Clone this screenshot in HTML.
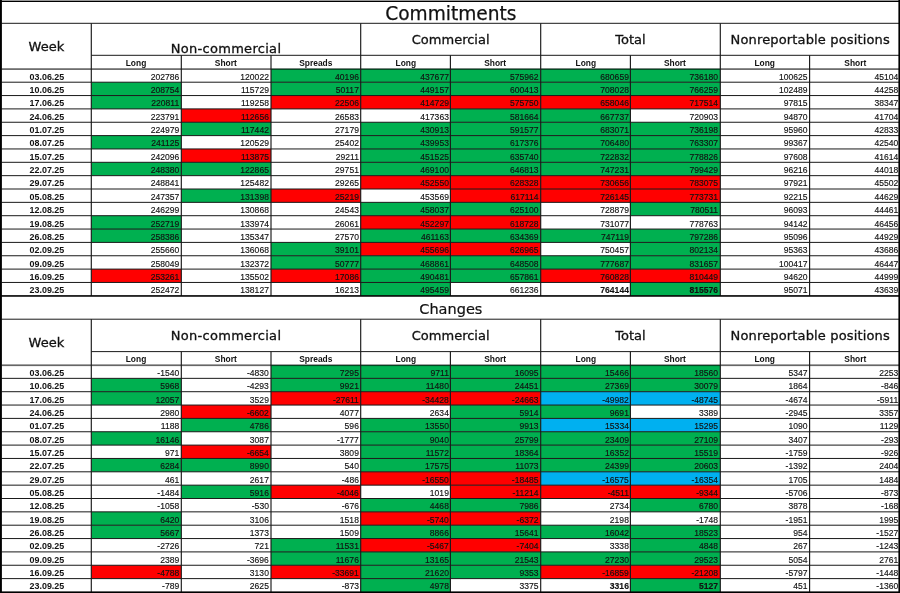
<!DOCTYPE html>
<html lang="en"><head><meta charset="utf-8"><title>Commitments / Changes</title>
<style>
html,body{margin:0;padding:0;background:#fff}
#pg{position:relative;width:900px;height:593px;overflow:hidden;background:#fff;font-family:"Liberation Sans",sans-serif;color:#111}
#pg svg{position:absolute;left:0;top:0}
#pg div{position:absolute;white-space:nowrap;overflow:visible;height:12px;line-height:12px}
.ttl{font-family:"DejaVu Sans",sans-serif;font-size:18.6px;text-align:center;-webkit-text-stroke:.25px #111}
.ttl2{font-family:"DejaVu Sans",sans-serif;font-size:14.5px;text-align:center;-webkit-text-stroke:.2px #111}
.hd{font-family:"DejaVu Sans",sans-serif;font-size:13px;text-align:center;-webkit-text-stroke:.3px #111}
.nc{letter-spacing:.3px}
.nr{letter-spacing:.15px}
.sub{font-weight:bold;font-size:9.2px;text-align:center;transform:scaleX(.915);transform-origin:50% 50%}
.wk{font-weight:bold;font-size:9.2px;text-align:center;transform:scaleX(.97);transform-origin:50% 50%}
.num{font-size:9.5px;text-align:right;-webkit-text-stroke:.15px #111;transform:scaleX(.90);transform-origin:100% 50%}
.b{font-weight:bold}
</style></head><body>
<div id="pg">
<svg width="900" height="593" viewBox="0 0 900 593">
<rect x="271.00" y="68.85" width="89.70" height="13.35" fill="#00B050"/>
<rect x="360.70" y="68.85" width="89.70" height="13.35" fill="#00B050"/>
<rect x="450.40" y="68.85" width="90.30" height="13.35" fill="#00B050"/>
<rect x="540.70" y="68.85" width="89.70" height="13.35" fill="#00B050"/>
<rect x="630.40" y="68.85" width="89.90" height="13.35" fill="#00B050"/>
<rect x="91.30" y="82.20" width="90.00" height="13.35" fill="#00B050"/>
<rect x="271.00" y="82.20" width="89.70" height="13.35" fill="#00B050"/>
<rect x="360.70" y="82.20" width="89.70" height="13.35" fill="#00B050"/>
<rect x="450.40" y="82.20" width="90.30" height="13.35" fill="#00B050"/>
<rect x="540.70" y="82.20" width="89.70" height="13.35" fill="#00B050"/>
<rect x="630.40" y="82.20" width="89.90" height="13.35" fill="#00B050"/>
<rect x="91.30" y="95.55" width="90.00" height="13.35" fill="#00B050"/>
<rect x="271.00" y="95.55" width="89.70" height="13.35" fill="#FF0000"/>
<rect x="360.70" y="95.55" width="89.70" height="13.35" fill="#FF0000"/>
<rect x="450.40" y="95.55" width="90.30" height="13.35" fill="#FF0000"/>
<rect x="540.70" y="95.55" width="89.70" height="13.35" fill="#FF0000"/>
<rect x="630.40" y="95.55" width="89.90" height="13.35" fill="#FF0000"/>
<rect x="181.30" y="108.90" width="89.70" height="13.35" fill="#FF0000"/>
<rect x="450.40" y="108.90" width="90.30" height="13.35" fill="#00B050"/>
<rect x="540.70" y="108.90" width="89.70" height="13.35" fill="#00B050"/>
<rect x="181.30" y="122.25" width="89.70" height="13.35" fill="#00B050"/>
<rect x="360.70" y="122.25" width="89.70" height="13.35" fill="#00B050"/>
<rect x="450.40" y="122.25" width="90.30" height="13.35" fill="#00B050"/>
<rect x="540.70" y="122.25" width="89.70" height="13.35" fill="#00B050"/>
<rect x="630.40" y="122.25" width="89.90" height="13.35" fill="#00B050"/>
<rect x="91.30" y="135.60" width="90.00" height="13.35" fill="#00B050"/>
<rect x="360.70" y="135.60" width="89.70" height="13.35" fill="#00B050"/>
<rect x="450.40" y="135.60" width="90.30" height="13.35" fill="#00B050"/>
<rect x="540.70" y="135.60" width="89.70" height="13.35" fill="#00B050"/>
<rect x="630.40" y="135.60" width="89.90" height="13.35" fill="#00B050"/>
<rect x="181.30" y="148.95" width="89.70" height="13.35" fill="#FF0000"/>
<rect x="360.70" y="148.95" width="89.70" height="13.35" fill="#00B050"/>
<rect x="450.40" y="148.95" width="90.30" height="13.35" fill="#00B050"/>
<rect x="540.70" y="148.95" width="89.70" height="13.35" fill="#00B050"/>
<rect x="630.40" y="148.95" width="89.90" height="13.35" fill="#00B050"/>
<rect x="91.30" y="162.30" width="90.00" height="13.35" fill="#00B050"/>
<rect x="181.30" y="162.30" width="89.70" height="13.35" fill="#00B050"/>
<rect x="360.70" y="162.30" width="89.70" height="13.35" fill="#00B050"/>
<rect x="450.40" y="162.30" width="90.30" height="13.35" fill="#00B050"/>
<rect x="540.70" y="162.30" width="89.70" height="13.35" fill="#00B050"/>
<rect x="630.40" y="162.30" width="89.90" height="13.35" fill="#00B050"/>
<rect x="360.70" y="175.65" width="89.70" height="13.35" fill="#FF0000"/>
<rect x="450.40" y="175.65" width="90.30" height="13.35" fill="#FF0000"/>
<rect x="540.70" y="175.65" width="89.70" height="13.35" fill="#FF0000"/>
<rect x="630.40" y="175.65" width="89.90" height="13.35" fill="#FF0000"/>
<rect x="181.30" y="189.00" width="89.70" height="13.35" fill="#00B050"/>
<rect x="271.00" y="189.00" width="89.70" height="13.35" fill="#FF0000"/>
<rect x="450.40" y="189.00" width="90.30" height="13.35" fill="#FF0000"/>
<rect x="540.70" y="189.00" width="89.70" height="13.35" fill="#FF0000"/>
<rect x="630.40" y="189.00" width="89.90" height="13.35" fill="#FF0000"/>
<rect x="360.70" y="202.35" width="89.70" height="13.35" fill="#00B050"/>
<rect x="450.40" y="202.35" width="90.30" height="13.35" fill="#00B050"/>
<rect x="630.40" y="202.35" width="89.90" height="13.35" fill="#00B050"/>
<rect x="91.30" y="215.70" width="90.00" height="13.35" fill="#00B050"/>
<rect x="360.70" y="215.70" width="89.70" height="13.35" fill="#FF0000"/>
<rect x="450.40" y="215.70" width="90.30" height="13.35" fill="#FF0000"/>
<rect x="91.30" y="229.05" width="90.00" height="13.35" fill="#00B050"/>
<rect x="360.70" y="229.05" width="89.70" height="13.35" fill="#00B050"/>
<rect x="450.40" y="229.05" width="90.30" height="13.35" fill="#00B050"/>
<rect x="540.70" y="229.05" width="89.70" height="13.35" fill="#00B050"/>
<rect x="630.40" y="229.05" width="89.90" height="13.35" fill="#00B050"/>
<rect x="271.00" y="242.40" width="89.70" height="13.35" fill="#00B050"/>
<rect x="360.70" y="242.40" width="89.70" height="13.35" fill="#FF0000"/>
<rect x="450.40" y="242.40" width="90.30" height="13.35" fill="#FF0000"/>
<rect x="630.40" y="242.40" width="89.90" height="13.35" fill="#00B050"/>
<rect x="271.00" y="255.75" width="89.70" height="13.35" fill="#00B050"/>
<rect x="360.70" y="255.75" width="89.70" height="13.35" fill="#00B050"/>
<rect x="450.40" y="255.75" width="90.30" height="13.35" fill="#00B050"/>
<rect x="540.70" y="255.75" width="89.70" height="13.35" fill="#00B050"/>
<rect x="630.40" y="255.75" width="89.90" height="13.35" fill="#00B050"/>
<rect x="91.30" y="269.10" width="90.00" height="13.35" fill="#FF0000"/>
<rect x="271.00" y="269.10" width="89.70" height="13.35" fill="#FF0000"/>
<rect x="360.70" y="269.10" width="89.70" height="13.35" fill="#00B050"/>
<rect x="450.40" y="269.10" width="90.30" height="13.35" fill="#00B050"/>
<rect x="540.70" y="269.10" width="89.70" height="13.35" fill="#FF0000"/>
<rect x="630.40" y="269.10" width="89.90" height="13.35" fill="#FF0000"/>
<rect x="360.70" y="282.45" width="89.70" height="13.35" fill="#00B050"/>
<rect x="630.40" y="282.45" width="89.90" height="13.35" fill="#00B050"/>
<rect x="1.50" y="22.80" width="898.70" height="1.00" fill="#1a1a1a"/>
<rect x="91.30" y="54.80" width="808.90" height="1.00" fill="#1a1a1a"/>
<rect x="1.50" y="68.25" width="898.70" height="1.70" fill="rgba(0,0,0,.6)"/>
<rect x="1.50" y="81.70" width="898.70" height="1.00" fill="#1a1a1a"/>
<rect x="1.50" y="95.05" width="898.70" height="1.00" fill="#1a1a1a"/>
<rect x="1.50" y="108.40" width="898.70" height="1.00" fill="#1a1a1a"/>
<rect x="1.50" y="121.75" width="898.70" height="1.00" fill="#1a1a1a"/>
<rect x="1.50" y="135.10" width="898.70" height="1.00" fill="#1a1a1a"/>
<rect x="1.50" y="148.45" width="898.70" height="1.00" fill="#1a1a1a"/>
<rect x="1.50" y="161.80" width="898.70" height="1.00" fill="#1a1a1a"/>
<rect x="1.50" y="175.15" width="898.70" height="1.00" fill="#1a1a1a"/>
<rect x="1.50" y="188.50" width="898.70" height="1.00" fill="#1a1a1a"/>
<rect x="1.50" y="201.85" width="898.70" height="1.00" fill="#1a1a1a"/>
<rect x="1.50" y="215.20" width="898.70" height="1.00" fill="#1a1a1a"/>
<rect x="1.50" y="228.55" width="898.70" height="1.00" fill="#1a1a1a"/>
<rect x="1.50" y="241.90" width="898.70" height="1.00" fill="#1a1a1a"/>
<rect x="1.50" y="255.25" width="898.70" height="1.00" fill="#1a1a1a"/>
<rect x="1.50" y="268.60" width="898.70" height="1.00" fill="#1a1a1a"/>
<rect x="1.50" y="281.95" width="898.70" height="1.00" fill="#1a1a1a"/>
<rect x="90.72" y="23.30" width="1.15" height="272.50" fill="#1a1a1a"/>
<rect x="360.12" y="23.30" width="1.15" height="272.50" fill="#1a1a1a"/>
<rect x="540.12" y="23.30" width="1.15" height="272.50" fill="#1a1a1a"/>
<rect x="719.72" y="23.30" width="1.15" height="272.50" fill="#1a1a1a"/>
<rect x="180.73" y="55.30" width="1.15" height="240.50" fill="#1a1a1a"/>
<rect x="270.43" y="55.30" width="1.15" height="240.50" fill="#1a1a1a"/>
<rect x="449.82" y="55.30" width="1.15" height="240.50" fill="#1a1a1a"/>
<rect x="629.82" y="55.30" width="1.15" height="240.50" fill="#1a1a1a"/>
<rect x="809.02" y="55.30" width="1.15" height="240.50" fill="#1a1a1a"/>
<rect x="271.00" y="365.00" width="89.70" height="13.35" fill="#00B050"/>
<rect x="360.70" y="365.00" width="89.70" height="13.35" fill="#00B050"/>
<rect x="450.40" y="365.00" width="90.30" height="13.35" fill="#00B050"/>
<rect x="540.70" y="365.00" width="89.70" height="13.35" fill="#00B050"/>
<rect x="630.40" y="365.00" width="89.90" height="13.35" fill="#00B050"/>
<rect x="91.30" y="378.35" width="90.00" height="13.35" fill="#00B050"/>
<rect x="271.00" y="378.35" width="89.70" height="13.35" fill="#00B050"/>
<rect x="360.70" y="378.35" width="89.70" height="13.35" fill="#00B050"/>
<rect x="450.40" y="378.35" width="90.30" height="13.35" fill="#00B050"/>
<rect x="540.70" y="378.35" width="89.70" height="13.35" fill="#00B050"/>
<rect x="630.40" y="378.35" width="89.90" height="13.35" fill="#00B050"/>
<rect x="91.30" y="391.70" width="90.00" height="13.35" fill="#00B050"/>
<rect x="271.00" y="391.70" width="89.70" height="13.35" fill="#FF0000"/>
<rect x="360.70" y="391.70" width="89.70" height="13.35" fill="#FF0000"/>
<rect x="450.40" y="391.70" width="90.30" height="13.35" fill="#FF0000"/>
<rect x="540.70" y="391.70" width="89.70" height="13.35" fill="#00B0F0"/>
<rect x="630.40" y="391.70" width="89.90" height="13.35" fill="#00B0F0"/>
<rect x="181.30" y="405.05" width="89.70" height="13.35" fill="#FF0000"/>
<rect x="450.40" y="405.05" width="90.30" height="13.35" fill="#00B050"/>
<rect x="540.70" y="405.05" width="89.70" height="13.35" fill="#00B050"/>
<rect x="181.30" y="418.40" width="89.70" height="13.35" fill="#00B050"/>
<rect x="360.70" y="418.40" width="89.70" height="13.35" fill="#00B050"/>
<rect x="450.40" y="418.40" width="90.30" height="13.35" fill="#00B050"/>
<rect x="540.70" y="418.40" width="89.70" height="13.35" fill="#00B0F0"/>
<rect x="630.40" y="418.40" width="89.90" height="13.35" fill="#00B0F0"/>
<rect x="91.30" y="431.75" width="90.00" height="13.35" fill="#00B050"/>
<rect x="360.70" y="431.75" width="89.70" height="13.35" fill="#00B050"/>
<rect x="450.40" y="431.75" width="90.30" height="13.35" fill="#00B050"/>
<rect x="540.70" y="431.75" width="89.70" height="13.35" fill="#00B050"/>
<rect x="630.40" y="431.75" width="89.90" height="13.35" fill="#00B050"/>
<rect x="181.30" y="445.10" width="89.70" height="13.35" fill="#FF0000"/>
<rect x="360.70" y="445.10" width="89.70" height="13.35" fill="#00B050"/>
<rect x="450.40" y="445.10" width="90.30" height="13.35" fill="#00B050"/>
<rect x="540.70" y="445.10" width="89.70" height="13.35" fill="#00B050"/>
<rect x="630.40" y="445.10" width="89.90" height="13.35" fill="#00B050"/>
<rect x="91.30" y="458.45" width="90.00" height="13.35" fill="#00B050"/>
<rect x="181.30" y="458.45" width="89.70" height="13.35" fill="#00B050"/>
<rect x="360.70" y="458.45" width="89.70" height="13.35" fill="#00B050"/>
<rect x="450.40" y="458.45" width="90.30" height="13.35" fill="#00B050"/>
<rect x="540.70" y="458.45" width="89.70" height="13.35" fill="#00B050"/>
<rect x="630.40" y="458.45" width="89.90" height="13.35" fill="#00B050"/>
<rect x="360.70" y="471.80" width="89.70" height="13.35" fill="#FF0000"/>
<rect x="450.40" y="471.80" width="90.30" height="13.35" fill="#FF0000"/>
<rect x="540.70" y="471.80" width="89.70" height="13.35" fill="#00B0F0"/>
<rect x="630.40" y="471.80" width="89.90" height="13.35" fill="#00B0F0"/>
<rect x="181.30" y="485.15" width="89.70" height="13.35" fill="#00B050"/>
<rect x="271.00" y="485.15" width="89.70" height="13.35" fill="#FF0000"/>
<rect x="450.40" y="485.15" width="90.30" height="13.35" fill="#FF0000"/>
<rect x="540.70" y="485.15" width="89.70" height="13.35" fill="#FF0000"/>
<rect x="630.40" y="485.15" width="89.90" height="13.35" fill="#FF0000"/>
<rect x="360.70" y="498.50" width="89.70" height="13.35" fill="#00B050"/>
<rect x="450.40" y="498.50" width="90.30" height="13.35" fill="#00B050"/>
<rect x="630.40" y="498.50" width="89.90" height="13.35" fill="#00B050"/>
<rect x="91.30" y="511.85" width="90.00" height="13.35" fill="#00B050"/>
<rect x="360.70" y="511.85" width="89.70" height="13.35" fill="#FF0000"/>
<rect x="450.40" y="511.85" width="90.30" height="13.35" fill="#FF0000"/>
<rect x="91.30" y="525.20" width="90.00" height="13.35" fill="#00B050"/>
<rect x="360.70" y="525.20" width="89.70" height="13.35" fill="#00B050"/>
<rect x="450.40" y="525.20" width="90.30" height="13.35" fill="#00B050"/>
<rect x="540.70" y="525.20" width="89.70" height="13.35" fill="#00B050"/>
<rect x="630.40" y="525.20" width="89.90" height="13.35" fill="#00B050"/>
<rect x="271.00" y="538.55" width="89.70" height="13.35" fill="#00B050"/>
<rect x="360.70" y="538.55" width="89.70" height="13.35" fill="#FF0000"/>
<rect x="450.40" y="538.55" width="90.30" height="13.35" fill="#FF0000"/>
<rect x="630.40" y="538.55" width="89.90" height="13.35" fill="#00B050"/>
<rect x="271.00" y="551.90" width="89.70" height="13.35" fill="#00B050"/>
<rect x="360.70" y="551.90" width="89.70" height="13.35" fill="#00B050"/>
<rect x="450.40" y="551.90" width="90.30" height="13.35" fill="#00B050"/>
<rect x="540.70" y="551.90" width="89.70" height="13.35" fill="#00B050"/>
<rect x="630.40" y="551.90" width="89.90" height="13.35" fill="#00B050"/>
<rect x="91.30" y="565.25" width="90.00" height="13.35" fill="#FF0000"/>
<rect x="271.00" y="565.25" width="89.70" height="13.35" fill="#FF0000"/>
<rect x="360.70" y="565.25" width="89.70" height="13.35" fill="#00B050"/>
<rect x="450.40" y="565.25" width="90.30" height="13.35" fill="#00B050"/>
<rect x="540.70" y="565.25" width="89.70" height="13.35" fill="#FF0000"/>
<rect x="630.40" y="565.25" width="89.90" height="13.35" fill="#FF0000"/>
<rect x="360.70" y="578.60" width="89.70" height="13.35" fill="#00B050"/>
<rect x="630.40" y="578.60" width="89.90" height="13.35" fill="#00B050"/>
<rect x="1.50" y="318.70" width="898.70" height="1.00" fill="#1a1a1a"/>
<rect x="91.30" y="351.10" width="808.90" height="1.00" fill="#1a1a1a"/>
<rect x="1.50" y="364.40" width="898.70" height="1.70" fill="rgba(0,0,0,.6)"/>
<rect x="1.50" y="377.85" width="898.70" height="1.00" fill="#1a1a1a"/>
<rect x="1.50" y="391.20" width="898.70" height="1.00" fill="#1a1a1a"/>
<rect x="1.50" y="404.55" width="898.70" height="1.00" fill="#1a1a1a"/>
<rect x="1.50" y="417.90" width="898.70" height="1.00" fill="#1a1a1a"/>
<rect x="1.50" y="431.25" width="898.70" height="1.00" fill="#1a1a1a"/>
<rect x="1.50" y="444.60" width="898.70" height="1.00" fill="#1a1a1a"/>
<rect x="1.50" y="457.95" width="898.70" height="1.00" fill="#1a1a1a"/>
<rect x="1.50" y="471.30" width="898.70" height="1.00" fill="#1a1a1a"/>
<rect x="1.50" y="484.65" width="898.70" height="1.00" fill="#1a1a1a"/>
<rect x="1.50" y="498.00" width="898.70" height="1.00" fill="#1a1a1a"/>
<rect x="1.50" y="511.35" width="898.70" height="1.00" fill="#1a1a1a"/>
<rect x="1.50" y="524.70" width="898.70" height="1.00" fill="#1a1a1a"/>
<rect x="1.50" y="538.05" width="898.70" height="1.00" fill="#1a1a1a"/>
<rect x="1.50" y="551.40" width="898.70" height="1.00" fill="#1a1a1a"/>
<rect x="1.50" y="564.75" width="898.70" height="1.00" fill="#1a1a1a"/>
<rect x="1.50" y="578.10" width="898.70" height="1.00" fill="#1a1a1a"/>
<rect x="90.72" y="319.20" width="1.15" height="272.75" fill="#1a1a1a"/>
<rect x="360.12" y="319.20" width="1.15" height="272.75" fill="#1a1a1a"/>
<rect x="540.12" y="319.20" width="1.15" height="272.75" fill="#1a1a1a"/>
<rect x="719.72" y="319.20" width="1.15" height="272.75" fill="#1a1a1a"/>
<rect x="180.73" y="351.60" width="1.15" height="240.35" fill="#1a1a1a"/>
<rect x="270.43" y="351.60" width="1.15" height="240.35" fill="#1a1a1a"/>
<rect x="449.82" y="351.60" width="1.15" height="240.35" fill="#1a1a1a"/>
<rect x="629.82" y="351.60" width="1.15" height="240.35" fill="#1a1a1a"/>
<rect x="809.02" y="351.60" width="1.15" height="240.35" fill="#1a1a1a"/>
<rect x="0.00" y="0.60" width="900.00" height="1.40" fill="#000"/>
<rect x="0.00" y="0.00" width="1.90" height="593.00" fill="#000"/>
<rect x="898.40" y="0.00" width="1.60" height="593.00" fill="#000"/>
<rect x="0.00" y="591.40" width="900.00" height="1.60" fill="#000"/>
<rect x="0.00" y="295.15" width="900.00" height="1.60" fill="#000"/>
</svg>
<div class="ttl" style="left:1.50px;top:8px;width:898.70px">Commitments</div>
<div class="hd" style="left:1.50px;top:41px;width:89.80px">Week</div>
<div class="hd nc" style="left:91.30px;top:43px;width:269.40px">Non-commercial</div>
<div class="hd" style="left:360.70px;top:34px;width:180.00px">Commercial</div>
<div class="hd" style="left:540.70px;top:34px;width:179.60px">Total</div>
<div class="hd nr" style="left:720.30px;top:34px;width:179.90px">Nonreportable positions</div>
<div class="sub" style="left:91.30px;top:57px;width:90.00px">Long</div>
<div class="sub" style="left:181.30px;top:57px;width:89.70px">Short</div>
<div class="sub" style="left:271.00px;top:57px;width:89.70px">Spreads</div>
<div class="sub" style="left:360.70px;top:57px;width:89.70px">Long</div>
<div class="sub" style="left:450.40px;top:57px;width:90.30px">Short</div>
<div class="sub" style="left:540.70px;top:57px;width:89.70px">Long</div>
<div class="sub" style="left:630.40px;top:57px;width:89.90px">Short</div>
<div class="sub" style="left:720.30px;top:57px;width:89.30px">Long</div>
<div class="sub" style="left:809.60px;top:57px;width:90.60px">Short</div>
<div class="wk" style="left:1.50px;top:71px;width:89.80px">03.06.25</div>
<div class="num" style="left:91.30px;top:71px;width:88.20px">202786</div>
<div class="num" style="left:181.30px;top:71px;width:87.90px">120022</div>
<div class="num" style="left:271.00px;top:71px;width:87.90px">40196</div>
<div class="num" style="left:360.70px;top:71px;width:87.90px">437677</div>
<div class="num" style="left:450.40px;top:71px;width:88.50px">575962</div>
<div class="num" style="left:540.70px;top:71px;width:87.90px">680659</div>
<div class="num" style="left:630.40px;top:71px;width:88.10px">736180</div>
<div class="num" style="left:720.30px;top:71px;width:87.50px">100625</div>
<div class="num" style="left:809.60px;top:71px;width:88.20px">45104</div>
<div class="wk" style="left:1.50px;top:84px;width:89.80px">10.06.25</div>
<div class="num" style="left:91.30px;top:84px;width:88.20px">208754</div>
<div class="num" style="left:181.30px;top:84px;width:87.90px">115729</div>
<div class="num" style="left:271.00px;top:84px;width:87.90px">50117</div>
<div class="num" style="left:360.70px;top:84px;width:87.90px">449157</div>
<div class="num" style="left:450.40px;top:84px;width:88.50px">600413</div>
<div class="num" style="left:540.70px;top:84px;width:87.90px">708028</div>
<div class="num" style="left:630.40px;top:84px;width:88.10px">766259</div>
<div class="num" style="left:720.30px;top:84px;width:87.50px">102489</div>
<div class="num" style="left:809.60px;top:84px;width:88.20px">44258</div>
<div class="wk" style="left:1.50px;top:97px;width:89.80px">17.06.25</div>
<div class="num" style="left:91.30px;top:97px;width:88.20px">220811</div>
<div class="num" style="left:181.30px;top:97px;width:87.90px">119258</div>
<div class="num" style="left:271.00px;top:97px;width:87.90px">22506</div>
<div class="num" style="left:360.70px;top:97px;width:87.90px">414729</div>
<div class="num" style="left:450.40px;top:97px;width:88.50px">575750</div>
<div class="num" style="left:540.70px;top:97px;width:87.90px">658046</div>
<div class="num" style="left:630.40px;top:97px;width:88.10px">717514</div>
<div class="num" style="left:720.30px;top:97px;width:87.50px">97815</div>
<div class="num" style="left:809.60px;top:97px;width:88.20px">38347</div>
<div class="wk" style="left:1.50px;top:111px;width:89.80px">24.06.25</div>
<div class="num" style="left:91.30px;top:111px;width:88.20px">223791</div>
<div class="num" style="left:181.30px;top:111px;width:87.90px">112656</div>
<div class="num" style="left:271.00px;top:111px;width:87.90px">26583</div>
<div class="num" style="left:360.70px;top:111px;width:87.90px">417363</div>
<div class="num" style="left:450.40px;top:111px;width:88.50px">581664</div>
<div class="num" style="left:540.70px;top:111px;width:87.90px">667737</div>
<div class="num" style="left:630.40px;top:111px;width:88.10px">720903</div>
<div class="num" style="left:720.30px;top:111px;width:87.50px">94870</div>
<div class="num" style="left:809.60px;top:111px;width:88.20px">41704</div>
<div class="wk" style="left:1.50px;top:124px;width:89.80px">01.07.25</div>
<div class="num" style="left:91.30px;top:124px;width:88.20px">224979</div>
<div class="num" style="left:181.30px;top:124px;width:87.90px">117442</div>
<div class="num" style="left:271.00px;top:124px;width:87.90px">27179</div>
<div class="num" style="left:360.70px;top:124px;width:87.90px">430913</div>
<div class="num" style="left:450.40px;top:124px;width:88.50px">591577</div>
<div class="num" style="left:540.70px;top:124px;width:87.90px">683071</div>
<div class="num" style="left:630.40px;top:124px;width:88.10px">736198</div>
<div class="num" style="left:720.30px;top:124px;width:87.50px">95960</div>
<div class="num" style="left:809.60px;top:124px;width:88.20px">42833</div>
<div class="wk" style="left:1.50px;top:137px;width:89.80px">08.07.25</div>
<div class="num" style="left:91.30px;top:137px;width:88.20px">241125</div>
<div class="num" style="left:181.30px;top:137px;width:87.90px">120529</div>
<div class="num" style="left:271.00px;top:137px;width:87.90px">25402</div>
<div class="num" style="left:360.70px;top:137px;width:87.90px">439953</div>
<div class="num" style="left:450.40px;top:137px;width:88.50px">617376</div>
<div class="num" style="left:540.70px;top:137px;width:87.90px">706480</div>
<div class="num" style="left:630.40px;top:137px;width:88.10px">763307</div>
<div class="num" style="left:720.30px;top:137px;width:87.50px">99367</div>
<div class="num" style="left:809.60px;top:137px;width:88.20px">42540</div>
<div class="wk" style="left:1.50px;top:151px;width:89.80px">15.07.25</div>
<div class="num" style="left:91.30px;top:151px;width:88.20px">242096</div>
<div class="num" style="left:181.30px;top:151px;width:87.90px">113875</div>
<div class="num" style="left:271.00px;top:151px;width:87.90px">29211</div>
<div class="num" style="left:360.70px;top:151px;width:87.90px">451525</div>
<div class="num" style="left:450.40px;top:151px;width:88.50px">635740</div>
<div class="num" style="left:540.70px;top:151px;width:87.90px">722832</div>
<div class="num" style="left:630.40px;top:151px;width:88.10px">778826</div>
<div class="num" style="left:720.30px;top:151px;width:87.50px">97608</div>
<div class="num" style="left:809.60px;top:151px;width:88.20px">41614</div>
<div class="wk" style="left:1.50px;top:164px;width:89.80px">22.07.25</div>
<div class="num" style="left:91.30px;top:164px;width:88.20px">248380</div>
<div class="num" style="left:181.30px;top:164px;width:87.90px">122865</div>
<div class="num" style="left:271.00px;top:164px;width:87.90px">29751</div>
<div class="num" style="left:360.70px;top:164px;width:87.90px">469100</div>
<div class="num" style="left:450.40px;top:164px;width:88.50px">646813</div>
<div class="num" style="left:540.70px;top:164px;width:87.90px">747231</div>
<div class="num" style="left:630.40px;top:164px;width:88.10px">799429</div>
<div class="num" style="left:720.30px;top:164px;width:87.50px">96216</div>
<div class="num" style="left:809.60px;top:164px;width:88.20px">44018</div>
<div class="wk" style="left:1.50px;top:177px;width:89.80px">29.07.25</div>
<div class="num" style="left:91.30px;top:177px;width:88.20px">248841</div>
<div class="num" style="left:181.30px;top:177px;width:87.90px">125482</div>
<div class="num" style="left:271.00px;top:177px;width:87.90px">29265</div>
<div class="num" style="left:360.70px;top:177px;width:87.90px">452550</div>
<div class="num" style="left:450.40px;top:177px;width:88.50px">628328</div>
<div class="num" style="left:540.70px;top:177px;width:87.90px">730656</div>
<div class="num" style="left:630.40px;top:177px;width:88.10px">783075</div>
<div class="num" style="left:720.30px;top:177px;width:87.50px">97921</div>
<div class="num" style="left:809.60px;top:177px;width:88.20px">45502</div>
<div class="wk" style="left:1.50px;top:191px;width:89.80px">05.08.25</div>
<div class="num" style="left:91.30px;top:191px;width:88.20px">247357</div>
<div class="num" style="left:181.30px;top:191px;width:87.90px">131398</div>
<div class="num" style="left:271.00px;top:191px;width:87.90px">25219</div>
<div class="num" style="left:360.70px;top:191px;width:87.90px">453569</div>
<div class="num" style="left:450.40px;top:191px;width:88.50px">617114</div>
<div class="num" style="left:540.70px;top:191px;width:87.90px">726145</div>
<div class="num" style="left:630.40px;top:191px;width:88.10px">773731</div>
<div class="num" style="left:720.30px;top:191px;width:87.50px">92215</div>
<div class="num" style="left:809.60px;top:191px;width:88.20px">44629</div>
<div class="wk" style="left:1.50px;top:204px;width:89.80px">12.08.25</div>
<div class="num" style="left:91.30px;top:204px;width:88.20px">246299</div>
<div class="num" style="left:181.30px;top:204px;width:87.90px">130868</div>
<div class="num" style="left:271.00px;top:204px;width:87.90px">24543</div>
<div class="num" style="left:360.70px;top:204px;width:87.90px">458037</div>
<div class="num" style="left:450.40px;top:204px;width:88.50px">625100</div>
<div class="num" style="left:540.70px;top:204px;width:87.90px">728879</div>
<div class="num" style="left:630.40px;top:204px;width:88.10px">780511</div>
<div class="num" style="left:720.30px;top:204px;width:87.50px">96093</div>
<div class="num" style="left:809.60px;top:204px;width:88.20px">44461</div>
<div class="wk" style="left:1.50px;top:218px;width:89.80px">19.08.25</div>
<div class="num" style="left:91.30px;top:218px;width:88.20px">252719</div>
<div class="num" style="left:181.30px;top:218px;width:87.90px">133974</div>
<div class="num" style="left:271.00px;top:218px;width:87.90px">26061</div>
<div class="num" style="left:360.70px;top:218px;width:87.90px">452297</div>
<div class="num" style="left:450.40px;top:218px;width:88.50px">618728</div>
<div class="num" style="left:540.70px;top:218px;width:87.90px">731077</div>
<div class="num" style="left:630.40px;top:218px;width:88.10px">778763</div>
<div class="num" style="left:720.30px;top:218px;width:87.50px">94142</div>
<div class="num" style="left:809.60px;top:218px;width:88.20px">46456</div>
<div class="wk" style="left:1.50px;top:231px;width:89.80px">26.08.25</div>
<div class="num" style="left:91.30px;top:231px;width:88.20px">258386</div>
<div class="num" style="left:181.30px;top:231px;width:87.90px">135347</div>
<div class="num" style="left:271.00px;top:231px;width:87.90px">27570</div>
<div class="num" style="left:360.70px;top:231px;width:87.90px">461163</div>
<div class="num" style="left:450.40px;top:231px;width:88.50px">634369</div>
<div class="num" style="left:540.70px;top:231px;width:87.90px">747119</div>
<div class="num" style="left:630.40px;top:231px;width:88.10px">797286</div>
<div class="num" style="left:720.30px;top:231px;width:87.50px">95096</div>
<div class="num" style="left:809.60px;top:231px;width:88.20px">44929</div>
<div class="wk" style="left:1.50px;top:244px;width:89.80px">02.09.25</div>
<div class="num" style="left:91.30px;top:244px;width:88.20px">255660</div>
<div class="num" style="left:181.30px;top:244px;width:87.90px">136068</div>
<div class="num" style="left:271.00px;top:244px;width:87.90px">39101</div>
<div class="num" style="left:360.70px;top:244px;width:87.90px">455696</div>
<div class="num" style="left:450.40px;top:244px;width:88.50px">626965</div>
<div class="num" style="left:540.70px;top:244px;width:87.90px">750457</div>
<div class="num" style="left:630.40px;top:244px;width:88.10px">802134</div>
<div class="num" style="left:720.30px;top:244px;width:87.50px">95363</div>
<div class="num" style="left:809.60px;top:244px;width:88.20px">43686</div>
<div class="wk" style="left:1.50px;top:258px;width:89.80px">09.09.25</div>
<div class="num" style="left:91.30px;top:258px;width:88.20px">258049</div>
<div class="num" style="left:181.30px;top:258px;width:87.90px">132372</div>
<div class="num" style="left:271.00px;top:258px;width:87.90px">50777</div>
<div class="num" style="left:360.70px;top:258px;width:87.90px">468861</div>
<div class="num" style="left:450.40px;top:258px;width:88.50px">648508</div>
<div class="num" style="left:540.70px;top:258px;width:87.90px">777687</div>
<div class="num" style="left:630.40px;top:258px;width:88.10px">831657</div>
<div class="num" style="left:720.30px;top:258px;width:87.50px">100417</div>
<div class="num" style="left:809.60px;top:258px;width:88.20px">46447</div>
<div class="wk" style="left:1.50px;top:271px;width:89.80px">16.09.25</div>
<div class="num" style="left:91.30px;top:271px;width:88.20px">253261</div>
<div class="num" style="left:181.30px;top:271px;width:87.90px">135502</div>
<div class="num" style="left:271.00px;top:271px;width:87.90px">17086</div>
<div class="num" style="left:360.70px;top:271px;width:87.90px">490481</div>
<div class="num" style="left:450.40px;top:271px;width:88.50px">657861</div>
<div class="num" style="left:540.70px;top:271px;width:87.90px">760828</div>
<div class="num" style="left:630.40px;top:271px;width:88.10px">810449</div>
<div class="num" style="left:720.30px;top:271px;width:87.50px">94620</div>
<div class="num" style="left:809.60px;top:271px;width:88.20px">44999</div>
<div class="wk" style="left:1.50px;top:284px;width:89.80px">23.09.25</div>
<div class="num" style="left:91.30px;top:284px;width:88.20px">252472</div>
<div class="num" style="left:181.30px;top:284px;width:87.90px">138127</div>
<div class="num" style="left:271.00px;top:284px;width:87.90px">16213</div>
<div class="num" style="left:360.70px;top:284px;width:87.90px">495459</div>
<div class="num" style="left:450.40px;top:284px;width:88.50px">661236</div>
<div class="num b" style="left:540.70px;top:284px;width:87.90px">764144</div>
<div class="num b" style="left:630.40px;top:284px;width:88.10px">815576</div>
<div class="num" style="left:720.30px;top:284px;width:87.50px">95071</div>
<div class="num" style="left:809.60px;top:284px;width:88.20px">43639</div>
<div class="ttl2" style="left:1.50px;top:303px;width:898.70px">Changes</div>
<div class="hd" style="left:1.50px;top:337px;width:89.80px">Week</div>
<div class="hd nc" style="left:91.30px;top:330px;width:269.40px">Non-commercial</div>
<div class="hd" style="left:360.70px;top:330px;width:180.00px">Commercial</div>
<div class="hd" style="left:540.70px;top:330px;width:179.60px">Total</div>
<div class="hd nr" style="left:720.30px;top:330px;width:179.90px">Nonreportable positions</div>
<div class="sub" style="left:91.30px;top:353px;width:90.00px">Long</div>
<div class="sub" style="left:181.30px;top:353px;width:89.70px">Short</div>
<div class="sub" style="left:271.00px;top:353px;width:89.70px">Spreads</div>
<div class="sub" style="left:360.70px;top:353px;width:89.70px">Long</div>
<div class="sub" style="left:450.40px;top:353px;width:90.30px">Short</div>
<div class="sub" style="left:540.70px;top:353px;width:89.70px">Long</div>
<div class="sub" style="left:630.40px;top:353px;width:89.90px">Short</div>
<div class="sub" style="left:720.30px;top:353px;width:89.30px">Long</div>
<div class="sub" style="left:809.60px;top:353px;width:90.60px">Short</div>
<div class="wk" style="left:1.50px;top:367px;width:89.80px">03.06.25</div>
<div class="num" style="left:91.30px;top:367px;width:88.20px">-1540</div>
<div class="num" style="left:181.30px;top:367px;width:87.90px">-4830</div>
<div class="num" style="left:271.00px;top:367px;width:87.90px">7295</div>
<div class="num" style="left:360.70px;top:367px;width:87.90px">9711</div>
<div class="num" style="left:450.40px;top:367px;width:88.50px">16095</div>
<div class="num" style="left:540.70px;top:367px;width:87.90px">15466</div>
<div class="num" style="left:630.40px;top:367px;width:88.10px">18560</div>
<div class="num" style="left:720.30px;top:367px;width:87.50px">5347</div>
<div class="num" style="left:809.60px;top:367px;width:88.20px">2253</div>
<div class="wk" style="left:1.50px;top:380px;width:89.80px">10.06.25</div>
<div class="num" style="left:91.30px;top:380px;width:88.20px">5968</div>
<div class="num" style="left:181.30px;top:380px;width:87.90px">-4293</div>
<div class="num" style="left:271.00px;top:380px;width:87.90px">9921</div>
<div class="num" style="left:360.70px;top:380px;width:87.90px">11480</div>
<div class="num" style="left:450.40px;top:380px;width:88.50px">24451</div>
<div class="num" style="left:540.70px;top:380px;width:87.90px">27369</div>
<div class="num" style="left:630.40px;top:380px;width:88.10px">30079</div>
<div class="num" style="left:720.30px;top:380px;width:87.50px">1864</div>
<div class="num" style="left:809.60px;top:380px;width:88.20px">-846</div>
<div class="wk" style="left:1.50px;top:394px;width:89.80px">17.06.25</div>
<div class="num" style="left:91.30px;top:394px;width:88.20px">12057</div>
<div class="num" style="left:181.30px;top:394px;width:87.90px">3529</div>
<div class="num" style="left:271.00px;top:394px;width:87.90px">-27611</div>
<div class="num" style="left:360.70px;top:394px;width:87.90px">-34428</div>
<div class="num" style="left:450.40px;top:394px;width:88.50px">-24663</div>
<div class="num" style="left:540.70px;top:394px;width:87.90px">-49982</div>
<div class="num" style="left:630.40px;top:394px;width:88.10px">-48745</div>
<div class="num" style="left:720.30px;top:394px;width:87.50px">-4674</div>
<div class="num" style="left:809.60px;top:394px;width:88.20px">-5911</div>
<div class="wk" style="left:1.50px;top:407px;width:89.80px">24.06.25</div>
<div class="num" style="left:91.30px;top:407px;width:88.20px">2980</div>
<div class="num" style="left:181.30px;top:407px;width:87.90px">-6602</div>
<div class="num" style="left:271.00px;top:407px;width:87.90px">4077</div>
<div class="num" style="left:360.70px;top:407px;width:87.90px">2634</div>
<div class="num" style="left:450.40px;top:407px;width:88.50px">5914</div>
<div class="num" style="left:540.70px;top:407px;width:87.90px">9691</div>
<div class="num" style="left:630.40px;top:407px;width:88.10px">3389</div>
<div class="num" style="left:720.30px;top:407px;width:87.50px">-2945</div>
<div class="num" style="left:809.60px;top:407px;width:88.20px">3357</div>
<div class="wk" style="left:1.50px;top:420px;width:89.80px">01.07.25</div>
<div class="num" style="left:91.30px;top:420px;width:88.20px">1188</div>
<div class="num" style="left:181.30px;top:420px;width:87.90px">4786</div>
<div class="num" style="left:271.00px;top:420px;width:87.90px">596</div>
<div class="num" style="left:360.70px;top:420px;width:87.90px">13550</div>
<div class="num" style="left:450.40px;top:420px;width:88.50px">9913</div>
<div class="num" style="left:540.70px;top:420px;width:87.90px">15334</div>
<div class="num" style="left:630.40px;top:420px;width:88.10px">15295</div>
<div class="num" style="left:720.30px;top:420px;width:87.50px">1090</div>
<div class="num" style="left:809.60px;top:420px;width:88.20px">1129</div>
<div class="wk" style="left:1.50px;top:434px;width:89.80px">08.07.25</div>
<div class="num" style="left:91.30px;top:434px;width:88.20px">16146</div>
<div class="num" style="left:181.30px;top:434px;width:87.90px">3087</div>
<div class="num" style="left:271.00px;top:434px;width:87.90px">-1777</div>
<div class="num" style="left:360.70px;top:434px;width:87.90px">9040</div>
<div class="num" style="left:450.40px;top:434px;width:88.50px">25799</div>
<div class="num" style="left:540.70px;top:434px;width:87.90px">23409</div>
<div class="num" style="left:630.40px;top:434px;width:88.10px">27109</div>
<div class="num" style="left:720.30px;top:434px;width:87.50px">3407</div>
<div class="num" style="left:809.60px;top:434px;width:88.20px">-293</div>
<div class="wk" style="left:1.50px;top:447px;width:89.80px">15.07.25</div>
<div class="num" style="left:91.30px;top:447px;width:88.20px">971</div>
<div class="num" style="left:181.30px;top:447px;width:87.90px">-6654</div>
<div class="num" style="left:271.00px;top:447px;width:87.90px">3809</div>
<div class="num" style="left:360.70px;top:447px;width:87.90px">11572</div>
<div class="num" style="left:450.40px;top:447px;width:88.50px">18364</div>
<div class="num" style="left:540.70px;top:447px;width:87.90px">16352</div>
<div class="num" style="left:630.40px;top:447px;width:88.10px">15519</div>
<div class="num" style="left:720.30px;top:447px;width:87.50px">-1759</div>
<div class="num" style="left:809.60px;top:447px;width:88.20px">-926</div>
<div class="wk" style="left:1.50px;top:460px;width:89.80px">22.07.25</div>
<div class="num" style="left:91.30px;top:460px;width:88.20px">6284</div>
<div class="num" style="left:181.30px;top:460px;width:87.90px">8990</div>
<div class="num" style="left:271.00px;top:460px;width:87.90px">540</div>
<div class="num" style="left:360.70px;top:460px;width:87.90px">17575</div>
<div class="num" style="left:450.40px;top:460px;width:88.50px">11073</div>
<div class="num" style="left:540.70px;top:460px;width:87.90px">24399</div>
<div class="num" style="left:630.40px;top:460px;width:88.10px">20603</div>
<div class="num" style="left:720.30px;top:460px;width:87.50px">-1392</div>
<div class="num" style="left:809.60px;top:460px;width:88.20px">2404</div>
<div class="wk" style="left:1.50px;top:474px;width:89.80px">29.07.25</div>
<div class="num" style="left:91.30px;top:474px;width:88.20px">461</div>
<div class="num" style="left:181.30px;top:474px;width:87.90px">2617</div>
<div class="num" style="left:271.00px;top:474px;width:87.90px">-486</div>
<div class="num" style="left:360.70px;top:474px;width:87.90px">-16550</div>
<div class="num" style="left:450.40px;top:474px;width:88.50px">-18485</div>
<div class="num" style="left:540.70px;top:474px;width:87.90px">-16575</div>
<div class="num" style="left:630.40px;top:474px;width:88.10px">-16354</div>
<div class="num" style="left:720.30px;top:474px;width:87.50px">1705</div>
<div class="num" style="left:809.60px;top:474px;width:88.20px">1484</div>
<div class="wk" style="left:1.50px;top:487px;width:89.80px">05.08.25</div>
<div class="num" style="left:91.30px;top:487px;width:88.20px">-1484</div>
<div class="num" style="left:181.30px;top:487px;width:87.90px">5916</div>
<div class="num" style="left:271.00px;top:487px;width:87.90px">-4046</div>
<div class="num" style="left:360.70px;top:487px;width:87.90px">1019</div>
<div class="num" style="left:450.40px;top:487px;width:88.50px">-11214</div>
<div class="num" style="left:540.70px;top:487px;width:87.90px">-4511</div>
<div class="num" style="left:630.40px;top:487px;width:88.10px">-9344</div>
<div class="num" style="left:720.30px;top:487px;width:87.50px">-5706</div>
<div class="num" style="left:809.60px;top:487px;width:88.20px">-873</div>
<div class="wk" style="left:1.50px;top:500px;width:89.80px">12.08.25</div>
<div class="num" style="left:91.30px;top:500px;width:88.20px">-1058</div>
<div class="num" style="left:181.30px;top:500px;width:87.90px">-530</div>
<div class="num" style="left:271.00px;top:500px;width:87.90px">-676</div>
<div class="num" style="left:360.70px;top:500px;width:87.90px">4468</div>
<div class="num" style="left:450.40px;top:500px;width:88.50px">7986</div>
<div class="num" style="left:540.70px;top:500px;width:87.90px">2734</div>
<div class="num" style="left:630.40px;top:500px;width:88.10px">6780</div>
<div class="num" style="left:720.30px;top:500px;width:87.50px">3878</div>
<div class="num" style="left:809.60px;top:500px;width:88.20px">-168</div>
<div class="wk" style="left:1.50px;top:514px;width:89.80px">19.08.25</div>
<div class="num" style="left:91.30px;top:514px;width:88.20px">6420</div>
<div class="num" style="left:181.30px;top:514px;width:87.90px">3106</div>
<div class="num" style="left:271.00px;top:514px;width:87.90px">1518</div>
<div class="num" style="left:360.70px;top:514px;width:87.90px">-5740</div>
<div class="num" style="left:450.40px;top:514px;width:88.50px">-6372</div>
<div class="num" style="left:540.70px;top:514px;width:87.90px">2198</div>
<div class="num" style="left:630.40px;top:514px;width:88.10px">-1748</div>
<div class="num" style="left:720.30px;top:514px;width:87.50px">-1951</div>
<div class="num" style="left:809.60px;top:514px;width:88.20px">1995</div>
<div class="wk" style="left:1.50px;top:527px;width:89.80px">26.08.25</div>
<div class="num" style="left:91.30px;top:527px;width:88.20px">5667</div>
<div class="num" style="left:181.30px;top:527px;width:87.90px">1373</div>
<div class="num" style="left:271.00px;top:527px;width:87.90px">1509</div>
<div class="num" style="left:360.70px;top:527px;width:87.90px">8866</div>
<div class="num" style="left:450.40px;top:527px;width:88.50px">15641</div>
<div class="num" style="left:540.70px;top:527px;width:87.90px">16042</div>
<div class="num" style="left:630.40px;top:527px;width:88.10px">18523</div>
<div class="num" style="left:720.30px;top:527px;width:87.50px">954</div>
<div class="num" style="left:809.60px;top:527px;width:88.20px">-1527</div>
<div class="wk" style="left:1.50px;top:540px;width:89.80px">02.09.25</div>
<div class="num" style="left:91.30px;top:540px;width:88.20px">-2726</div>
<div class="num" style="left:181.30px;top:540px;width:87.90px">721</div>
<div class="num" style="left:271.00px;top:540px;width:87.90px">11531</div>
<div class="num" style="left:360.70px;top:540px;width:87.90px">-5467</div>
<div class="num" style="left:450.40px;top:540px;width:88.50px">-7404</div>
<div class="num" style="left:540.70px;top:540px;width:87.90px">3338</div>
<div class="num" style="left:630.40px;top:540px;width:88.10px">4848</div>
<div class="num" style="left:720.30px;top:540px;width:87.50px">267</div>
<div class="num" style="left:809.60px;top:540px;width:88.20px">-1243</div>
<div class="wk" style="left:1.50px;top:554px;width:89.80px">09.09.25</div>
<div class="num" style="left:91.30px;top:554px;width:88.20px">2389</div>
<div class="num" style="left:181.30px;top:554px;width:87.90px">-3696</div>
<div class="num" style="left:271.00px;top:554px;width:87.90px">11676</div>
<div class="num" style="left:360.70px;top:554px;width:87.90px">13165</div>
<div class="num" style="left:450.40px;top:554px;width:88.50px">21543</div>
<div class="num" style="left:540.70px;top:554px;width:87.90px">27230</div>
<div class="num" style="left:630.40px;top:554px;width:88.10px">29523</div>
<div class="num" style="left:720.30px;top:554px;width:87.50px">5054</div>
<div class="num" style="left:809.60px;top:554px;width:88.20px">2761</div>
<div class="wk" style="left:1.50px;top:567px;width:89.80px">16.09.25</div>
<div class="num" style="left:91.30px;top:567px;width:88.20px">-4788</div>
<div class="num" style="left:181.30px;top:567px;width:87.90px">3130</div>
<div class="num" style="left:271.00px;top:567px;width:87.90px">-33691</div>
<div class="num" style="left:360.70px;top:567px;width:87.90px">21620</div>
<div class="num" style="left:450.40px;top:567px;width:88.50px">9353</div>
<div class="num" style="left:540.70px;top:567px;width:87.90px">-16859</div>
<div class="num" style="left:630.40px;top:567px;width:88.10px">-21208</div>
<div class="num" style="left:720.30px;top:567px;width:87.50px">-5797</div>
<div class="num" style="left:809.60px;top:567px;width:88.20px">-1448</div>
<div class="wk" style="left:1.50px;top:580px;width:89.80px">23.09.25</div>
<div class="num" style="left:91.30px;top:580px;width:88.20px">-789</div>
<div class="num" style="left:181.30px;top:580px;width:87.90px">2625</div>
<div class="num" style="left:271.00px;top:580px;width:87.90px">-873</div>
<div class="num" style="left:360.70px;top:580px;width:87.90px">4978</div>
<div class="num" style="left:450.40px;top:580px;width:88.50px">3375</div>
<div class="num b" style="left:540.70px;top:580px;width:87.90px">3316</div>
<div class="num b" style="left:630.40px;top:580px;width:88.10px">5127</div>
<div class="num" style="left:720.30px;top:580px;width:87.50px">451</div>
<div class="num" style="left:809.60px;top:580px;width:88.20px">-1360</div>
</div>
</body></html>
